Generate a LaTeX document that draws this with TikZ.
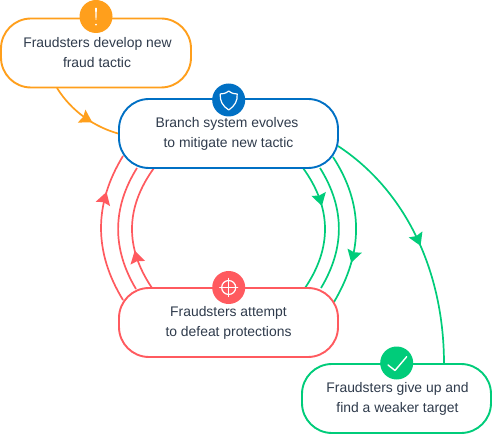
\documentclass[tikz,border=0pt]{standalone}
\usepackage{fontspec}
\setmainfont{Liberation Sans}
\usetikzlibrary{arrows.meta,decorations.markings,backgrounds}
\definecolor{cOrange}{HTML}{FF9F1C}
\definecolor{cBlue}{HTML}{0070C4}
\definecolor{cRed}{HTML}{FF5A5F}
\definecolor{cGreen}{HTML}{00CC7A}
\definecolor{cText}{HTML}{2F3B4C}
\tikzset{
  box/.style={draw=#1,line width=1.9pt,fill=white,rounded corners=30pt,minimum height=69pt,align=center,
    text=cText,font=\fontsize{13.9}{20}\selectfont,inner sep=0pt},
  badge/.style={circle,fill=#1,minimum size=33pt,inner sep=0pt},
  link/.style={draw=#1,line width=1.7pt},
  tipat/.style={postaction={decorate,decoration={markings,mark=at position #1 with {\arrow[line width=0pt]{Stealth[length=12.5pt,width=15pt,inset=1.8pt]}}}}},
  glyph/.style={draw=white,line width=1.2pt,line cap=round,line join=round}
}
\begin{document}
\begin{tikzpicture}[x=1pt,y=-1pt]
\useasboundingbox (0,0) rectangle (492,435);
\node[box=cOrange,minimum width=190pt] (b1) at (96,53) {\hspace*{3pt}Fraudsters develop new\\\hspace*{2pt}fraud tactic};
\node[box=cBlue,minimum width=219pt] (b2) at (228.5,133.5) {Branch system evolves\hspace*{3pt}\\to mitigate new tactic};
\node[box=cRed,minimum width=219pt] (b3) at (228.5,322.5) {Fraudsters attempt\\to defeat protections};
\node[box=cGreen,minimum width=189pt] (b4) at (396.5,398.5) {\hspace*{2pt}Fraudsters give up and\\\hspace*{2pt}find a weaker target};
\node[badge=cOrange] (i1) at (96,16.5) {};
\node[badge=cBlue] (i2) at (228.7,100) {};
\node[badge=cRed] (i3) at (228.7,287.5) {};
\node[badge=cGreen] (i4) at (396.7,363) {};
% icons
\begin{scope}[shift={(i1.center)}]
  \fill[white] (-0.9,-8.5) -- (0.9,-8.5) -- (0.4,3.5) -- (-0.4,3.5) -- cycle;
  \fill[white] (0,8.2) circle (1);
\end{scope}
\begin{scope}[shift={(i2.center)}]
  \draw[glyph] (0,-9) .. controls (3,-6.5) and (6,-6) .. (8.5,-6)
    .. controls (9,1) and (6,6) .. (0,10)
    .. controls (-6,6) and (-9,1) .. (-8.5,-6)
    .. controls (-6,-6) and (-3,-6.5) .. (0,-9) -- cycle;
\end{scope}
\begin{scope}[shift={(i3.center)}]
  \draw[glyph] (0,0) circle (7);
  \draw[glyph] (-9,0) -- (9,0) (0,-9) -- (0,9);
\end{scope}
\begin{scope}[shift={(i4.center)}]
  \draw[glyph,line width=1.4pt] (-8.7,2) -- (-1.7,7.5) -- (10,-6.3);
\end{scope}
\begin{scope}[on background layer]
\draw[link=cOrange,tipat=0.64] ([shift={(-39,35)}]b1.center) .. controls (72,112) and (95,127) .. (b2.west);
\draw[link=cRed,tipat=0.74] ([shift={(-105.5,-22.5)}]b3.center) .. controls (93.7,252) and (93.7,204) .. ([shift={(-105.5,22.5)}]b2.center);
\draw[link=cRed] ([shift={(-92.5,-33.5)}]b3.center) .. controls (112,249) and (112,208) .. ([shift={(-91.5,34.5)}]b2.center);
\draw[link=cRed,tipat=0.32] ([shift={(-76.5,-34.5)}]b3.center) .. controls (125,248) and (125,208) .. ([shift={(-74.5,34.5)}]b2.center);
\draw[link=cGreen,tipat=0.33] ([shift={(74.5,34.5)}]b2.center) .. controls (332,208) and (332,248) .. ([shift={(76.5,-34.5)}]b3.center);
\draw[link=cGreen] ([shift={(91.5,34.5)}]b2.center) .. controls (345,208) and (345,248) .. ([shift={(92.5,-34.5)}]b3.center);
\draw[link=cGreen,tipat=0.72] ([shift={(104.5,23.5)}]b2.center) .. controls (363.6,204) and (363.6,252) .. ([shift={(105.5,-20.5)}]b3.center);
\draw[link=cGreen,tipat=0.52] ([shift={(109.5,12.5)}]b2.center) .. controls (405,190) and (444,270) .. ([shift={(47.5,-34.5)}]b4.center);
\end{scope}
\end{tikzpicture}
\end{document}
